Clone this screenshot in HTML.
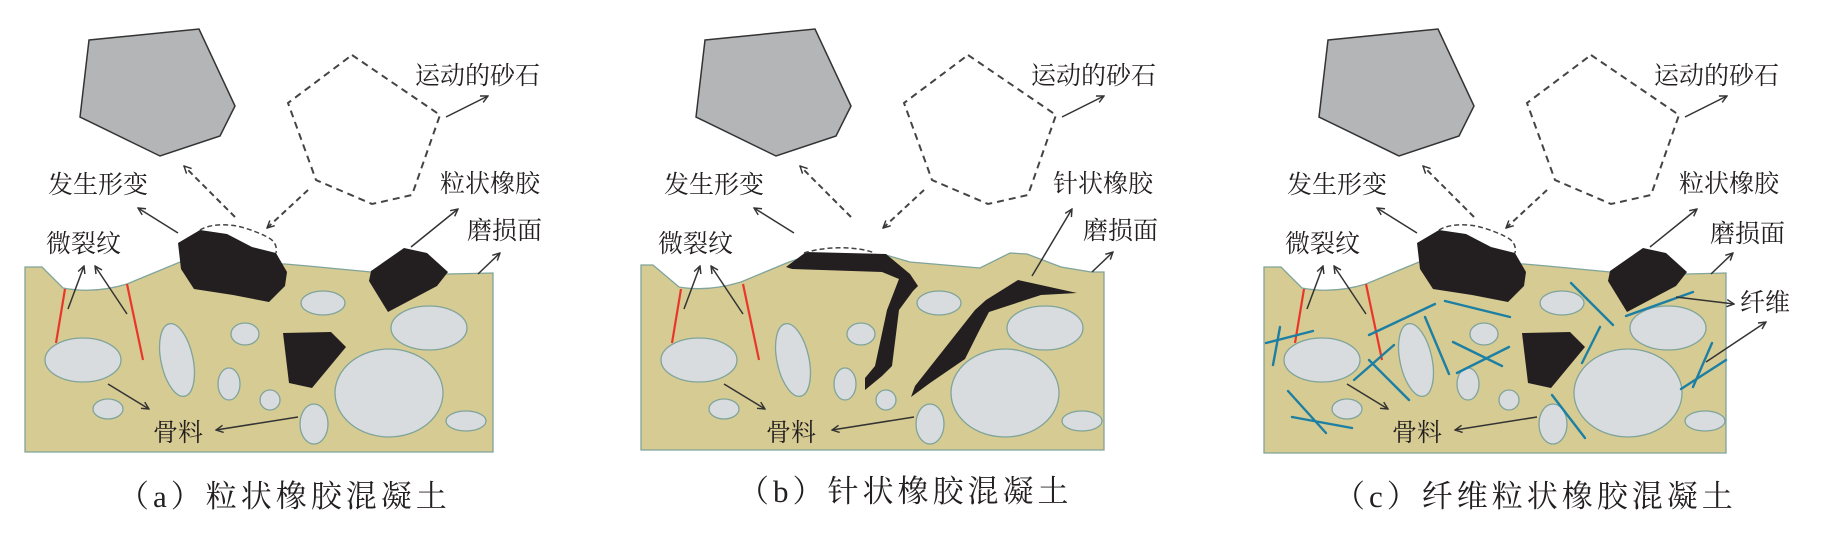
<!DOCTYPE html>
<html><head><meta charset="utf-8"><style>
html,body{margin:0;padding:0;background:#fff;}
svg{display:block}
text{font-family:"Liberation Serif","Noto Serif CJK SC",serif;fill:#231f20}
.l{font-size:25px}
.cap{font-size:31px;letter-spacing:4px}
</style></head><body>
<svg width="1824" height="540" viewBox="0 0 1824 540" xmlns="http://www.w3.org/2000/svg">
<defs>
<marker id="ah" viewBox="0 0 10 10" refX="9" refY="5" markerWidth="9" markerHeight="9" orient="auto" markerUnits="userSpaceOnUse">
<path d="M1,1 L9,5 L1,9" fill="none" stroke="#333" stroke-width="1.6"/></marker>
<g id="top">
<polygon points="89,40 199,29 235,106 220,136 160,156 80,117" fill="#b3b5b7" stroke="#333" stroke-width="1.5"/>
<polygon points="352,55 440,115 412,195 372,204 316,180 288,103" fill="none" stroke="#444" stroke-width="2" stroke-dasharray="7,5"/>
<line x1="446" y1="117" x2="488" y2="96" stroke="#333" stroke-width="1.5" marker-end="url(#ah)"/>
<line x1="178" y1="233" x2="138" y2="208" stroke="#333" stroke-width="1.5" marker-end="url(#ah)"/>
<line x1="235" y1="217" x2="184" y2="166" stroke="#444" stroke-width="2" stroke-dasharray="6,4" marker-end="url(#ah)"/>
<line x1="308" y1="190" x2="267" y2="228" stroke="#444" stroke-width="2" stroke-dasharray="6,4" marker-end="url(#ah)"/>
</g>
<g id="ell" fill="#d9dcdf" stroke="#7fa49a" stroke-width="1.3">
<ellipse cx="83" cy="360" rx="38" ry="22"/>
<ellipse cx="177" cy="360" rx="16" ry="37" transform="rotate(-12 177 360)"/>
<ellipse cx="245" cy="334" rx="14" ry="11"/>
<ellipse cx="323" cy="303" rx="22" ry="12"/>
<ellipse cx="429" cy="328" rx="38" ry="22"/>
<ellipse cx="389" cy="393" rx="54" ry="44"/>
<ellipse cx="229" cy="384" rx="11" ry="16"/>
<ellipse cx="270" cy="400" rx="10" ry="10"/>
<ellipse cx="108" cy="409" rx="15" ry="10"/>
<ellipse cx="314" cy="424" rx="14" ry="20"/>
<ellipse cx="466" cy="421" rx="20" ry="10"/>
</g>
<g id="cracks">
<line x1="65" y1="289" x2="56" y2="343" stroke="#e8362a" stroke-width="2.2"/>
<line x1="127" y1="284" x2="143" y2="360" stroke="#e8362a" stroke-width="2.2"/>
<line x1="68" y1="309" x2="84" y2="266" stroke="#333" stroke-width="1.5" marker-end="url(#ah)"/>
<line x1="127" y1="314" x2="95" y2="266" stroke="#333" stroke-width="1.5" marker-end="url(#ah)"/>
<line x1="108" y1="384" x2="149" y2="409" stroke="#333" stroke-width="1.5" marker-end="url(#ah)"/>
<line x1="298" y1="417" x2="216" y2="430" stroke="#333" stroke-width="1.5" marker-end="url(#ah)"/>
</g>
<g id="rubA">
<polygon points="178,243 200,230 227,234 252,247 276,253 287,272 285,286 269,302 233,295 194,289 181,269" fill="#231f20"/>
<path d="M200,230 C210,224 225,224 237,226 C250,229 262,234 269,238 C276,242 277,248 276,253" fill="none" stroke="#444" stroke-width="1.5" stroke-dasharray="5,3"/>
<polygon points="371,271 404,248 427,253 448,272 437,286 388,312 369,281" fill="#231f20"/>
<polygon points="283,333 331,332 346,347 312,388 289,383" fill="#231f20"/>
</g>
</defs>

<!-- Panel A -->
<g>
<use href="#top"/>
<path d="M25,267 L42,267 L63,288 Q94,294 127,284 L180,262 L285,264 L308,266 L371,272 L448,274 L493,273 L493,452 L25,452 Z" fill="#d6cb93" stroke="#7fa49a" stroke-width="1.3"/>
<use href="#ell"/><use href="#cracks"/><use href="#rubA"/>
<line x1="411" y1="247" x2="458" y2="209" stroke="#333" stroke-width="1.5" marker-end="url(#ah)"/>
<line x1="478" y1="274" x2="500" y2="253" stroke="#333" stroke-width="1.5" marker-end="url(#ah)"/>
<text class="l" x="415" y="84">运动的砂石</text>
<text class="l" x="48" y="193">发生形变</text>
<text class="l" x="440" y="192">粒状橡胶</text>
<text class="l" x="467" y="239">磨损面</text>
<text class="l" x="46" y="252">微裂纹</text>
<text class="l" x="153" y="441">骨料</text>
<text class="cap" x="118" y="507">（a）粒状橡胶混凝土</text>
</g>

<!-- Panel B -->
<g transform="translate(616,0)">
<use href="#top"/>
<path d="M25,265 L37,265 L63,287 Q92,292 125,282 L173,262 L188,257 L270,255 L294,262 L364,268 L394,253 L411,254 L445,267 L475,272 L488,272 L488,450 L25,450 Z" fill="#d6cb93" stroke="#7fa49a" stroke-width="1.3"/>
<use href="#ell"/><use href="#cracks"/>
<polygon points="170,267 190,252 270,254 294,274 302,286 297,291 283,310 276,366 266,376 249,390 249,378 259,366 271,310 283,279 266,272 176,269" fill="#231f20"/>
<path d="M188,253 C210,246 240,246 259,253" fill="none" stroke="#444" stroke-width="1.5" stroke-dasharray="5,3"/>
<polygon points="295,397 299,386 359,310 370,300 402,280 461,293 425,295 373,312 363,331 349,359 314,383" fill="#231f20"/>
<line x1="416" y1="276" x2="456" y2="209" stroke="#333" stroke-width="1.5" marker-end="url(#ah)"/>
<line x1="476" y1="272" x2="497" y2="252" stroke="#333" stroke-width="1.5" marker-end="url(#ah)"/>
<text class="l" x="415" y="84">运动的砂石</text>
<text class="l" x="48" y="193">发生形变</text>
<text class="l" x="437" y="192">针状橡胶</text>
<text class="l" x="467" y="239">磨损面</text>
<text class="l" x="42" y="252">微裂纹</text>
<text class="l" x="150" y="441">骨料</text>
<text class="cap" x="122" y="502">（b）针状橡胶混凝土</text>
</g>

<!-- Panel C -->
<g transform="translate(1239,0)">
<use href="#top"/>
<path d="M25,267 L42,267 L63,288 Q94,294 127,284 L180,262 L285,264 L308,266 L371,272 L448,274 L487,273 L487,453 L25,453 Z" fill="#d6cb93" stroke="#7fa49a" stroke-width="1.3"/>
<use href="#ell"/><use href="#cracks"/><use href="#rubA"/>
<g stroke="#1d7fa3" stroke-width="2.4" stroke-linecap="round">
<line x1="27" y1="343" x2="74" y2="331"/><line x1="41" y1="327" x2="34" y2="365"/>
<line x1="130" y1="335" x2="196" y2="304"/><line x1="206" y1="301" x2="271" y2="317"/>
<line x1="186" y1="317" x2="210" y2="374"/><line x1="115" y1="380" x2="155" y2="345"/>
<line x1="130" y1="360" x2="170" y2="400"/><line x1="214" y1="342" x2="263" y2="366"/>
<line x1="218" y1="373" x2="270" y2="347"/><line x1="332" y1="283" x2="374" y2="325"/>
<line x1="361" y1="327" x2="343" y2="363"/><line x1="387" y1="316" x2="454" y2="292"/>
<line x1="473" y1="343" x2="454" y2="387"/><line x1="442" y1="389" x2="487" y2="360"/>
<line x1="49" y1="391" x2="87" y2="433"/><line x1="53" y1="417" x2="113" y2="428"/>
<line x1="313" y1="395" x2="346" y2="438"/>
</g>
<line x1="411" y1="247" x2="458" y2="209" stroke="#333" stroke-width="1.5" marker-end="url(#ah)"/>
<line x1="472" y1="274" x2="494" y2="253" stroke="#333" stroke-width="1.5" marker-end="url(#ah)"/>
<line x1="437" y1="297" x2="495" y2="304" stroke="#333" stroke-width="1.5" marker-end="url(#ah)"/>
<line x1="467" y1="362" x2="527" y2="322" stroke="#333" stroke-width="1.5" marker-end="url(#ah)"/>
<text class="l" x="415" y="84">运动的砂石</text>
<text class="l" x="48" y="193">发生形变</text>
<text class="l" x="440" y="192">粒状橡胶</text>
<text class="l" x="471" y="242">磨损面</text>
<text class="l" x="501" y="311">纤维</text>
<text class="l" x="46" y="252">微裂纹</text>
<text class="l" x="153" y="441">骨料</text>
<text class="cap" x="95" y="507">（c）纤维粒状橡胶混凝土</text>
</g>
</svg>
</body></html>
